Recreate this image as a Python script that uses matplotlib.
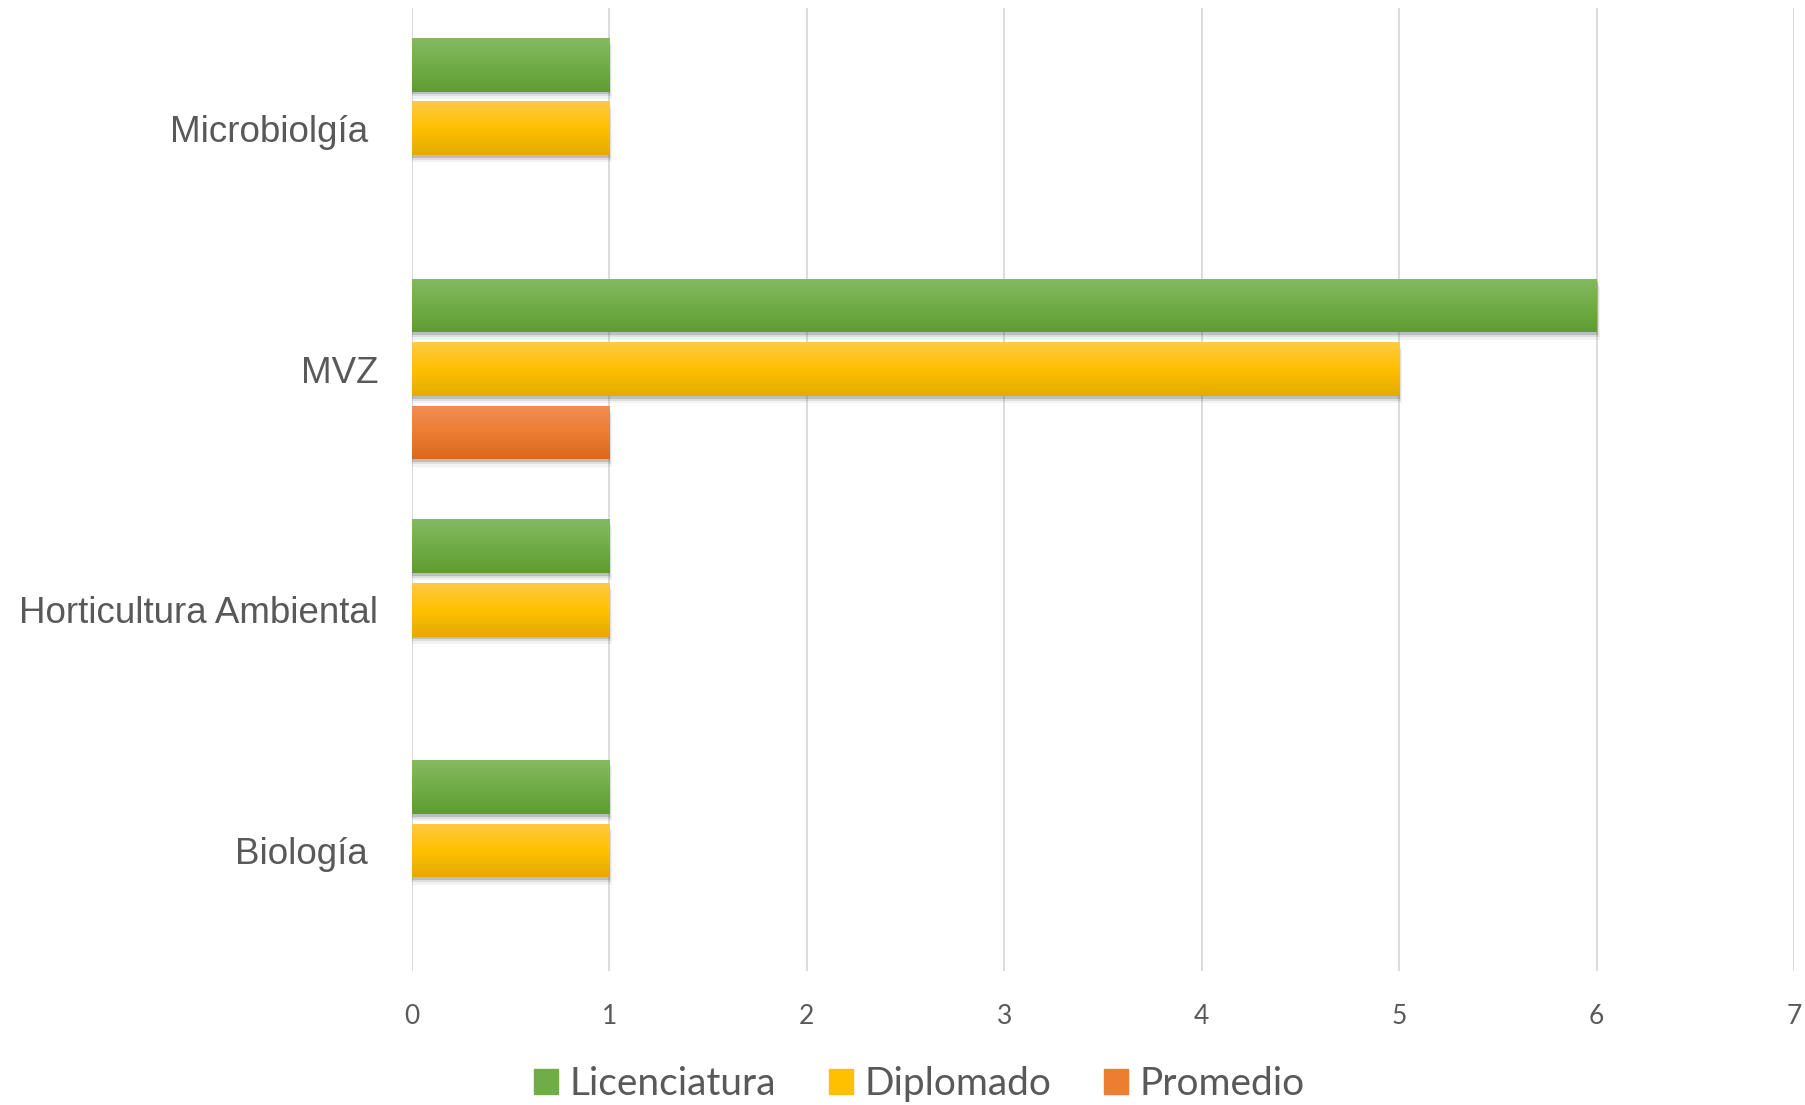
import numpy as np
import matplotlib.pyplot as plt
from matplotlib.colors import LinearSegmentedColormap
from matplotlib.patches import Rectangle

categories = ['Biología ', 'Horticultura Ambiental', 'MVZ', 'Microbiolgía ']
licenciatura = [1, 1, 6, 1]
diplomado = [1, 1, 5, 1]
promedio = [0, 0, 1, 0]

series = [
    ('Licenciatura', licenciatura, ['#5E9C33', '#70AD47', '#84BA61'], 0.264),
    ('Diplomado', diplomado, ['#E3AB00', '#FFC000', '#FFCA45'], 0.0),
    ('Promedio', promedio, ['#D7681E', '#ED7D31', '#F08E58'], -0.264),
]

fig = plt.figure(figsize=(18.06, 11.05), dpi=100)
ax = fig.add_axes([0.228, 0.1213, 0.7654, 0.8715])

y = np.arange(len(categories))
h = 0.223
grad = np.linspace(0, 1, 256).reshape(-1, 1)

handles = []
for name, vals, cols, off in series:
    cmap = LinearSegmentedColormap.from_list(name, cols)
    v = np.array(vals, dtype=float)
    # soft shadow under the bars
    for dy, dx, a in [(0.03, 0.016, 0.08), (0.02, 0.011, 0.14), (0.011, 0.006, 0.25)]:
        ax.barh(y + off - dy, v + (v > 0) * dx, height=h,
                color='#606060', alpha=a, linewidth=0, zorder=2)
    bars = ax.barh(y + off, vals, height=h, color=cols[1], linewidth=0, zorder=3)
    for b in bars:
        if b.get_width() == 0:
            continue
        x0, y0 = b.get_x(), b.get_y()
        im = ax.imshow(grad, cmap=cmap, aspect='auto', origin='lower',
                       extent=[x0, x0 + b.get_width(), y0, y0 + b.get_height()],
                       zorder=4)
        im.set_clip_path(b)
    handles.append(Rectangle((0, 0), 1, 1, color=cols[1], label=name))

ax.set_xlim(0, 7)
ax.set_ylim(-0.5, 3.5)
ax.set_xticks(range(8))
ax.set_yticks(y)
ax.set_yticklabels(categories, family='Liberation Sans', fontsize=26.5, color='#595959')
ax.tick_params(axis='y', length=0, pad=24)
ax.tick_params(axis='x', length=0, pad=24, labelsize=19, labelcolor='#595959')
for lab in ax.get_xticklabels():
    lab.set_family('Lato')
ax.grid(axis='x', color='#D9D9D9', linewidth=1.3, zorder=0)
ax.set_axisbelow(True)
for s in ax.spines.values():
    s.set_visible(False)

leg = fig.legend(handles=handles, loc='center', bbox_to_anchor=(0.509, 0.019), ncol=3,
                 frameon=False, prop={'family': 'Lato', 'size': 28},
                 handlelength=0.62, handleheight=0.62, handletextpad=0.3,
                 columnspacing=1.35, borderaxespad=0, borderpad=0)
for t in leg.get_texts():
    t.set_color('#595959')

fig.savefig('out.png', dpi=100)
